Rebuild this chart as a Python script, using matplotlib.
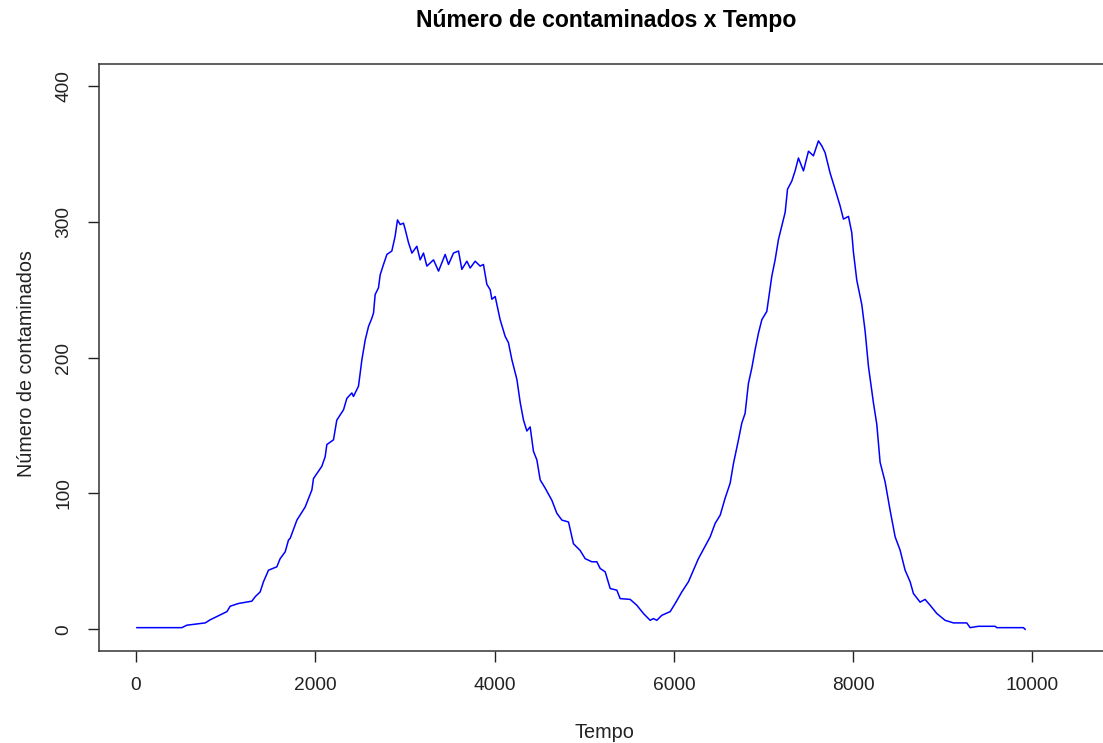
import matplotlib
matplotlib.use("Agg")
import matplotlib.pyplot as plt

plt.rcParams['font.family'] = ['Liberation Sans', 'DejaVu Sans']

# tempo (passos) e numero de contaminados
tempo = [10, 512, 567, 772, 828, 920, 1014, 1051, 1143, 1292, 1330, 1385, 1422,
         1478, 1571, 1608, 1664, 1701, 1720, 1795, 1887, 1962, 1980, 2073, 2110,
         2129, 2203, 2240, 2315, 2352, 2408, 2426, 2482, 2501, 2520, 2557, 2594,
         2631, 2650, 2668, 2705, 2724, 2761, 2799, 2854, 2891, 2917, 2947, 2984,
         3003, 3040, 3078, 3133, 3170, 3207, 3245, 3319, 3375, 3449, 3486, 3542,
         3598, 3635, 3691, 3728, 3784, 3839, 3876, 3914, 3951, 3970, 4007, 4062,
         4118, 4155, 4193, 4249, 4286, 4323, 4360, 4397, 4434, 4472, 4509, 4564,
         4639, 4695, 4751, 4825, 4880, 4955, 5011, 5085, 5141, 5178, 5234, 5290,
         5364, 5401, 5513, 5587, 5661, 5736, 5772, 5810, 5866, 5959, 6015, 6089,
         6163, 6219, 6274, 6340, 6405, 6461, 6517, 6572, 6628, 6665, 6721, 6758,
         6795, 6832, 6870, 6907, 6944, 6982, 7037, 7066, 7093, 7130, 7167, 7205,
         7242, 7268, 7316, 7353, 7390, 7446, 7502, 7557, 7613, 7650, 7687, 7743,
         7799, 7855, 7892, 7948, 7985, 8003, 8041, 8097, 8134, 8171, 8227, 8264,
         8301, 8357, 8413, 8469, 8524, 8580, 8636, 8673, 8747, 8803, 8859, 8934,
         9026, 9119, 9268, 9305, 9398, 9584, 9603, 9900, 9919]
contaminados = [1.2, 1.2, 3, 4.7, 7, 10, 13, 17, 19, 20.7, 24, 27.5, 35,
                43.5, 46, 52, 57, 65.7, 67, 80.4, 90, 102.6, 111, 120, 127,
                136, 139.5, 154, 161.6, 170, 174, 171.4, 179, 188.7, 198.5, 213, 223,
                229, 233, 246.5, 251.4, 261, 268.6, 276, 278.5, 289.5, 301.4, 298, 299,
                294.5, 284.6, 277, 282, 272, 277, 267.4, 272, 263.7, 276, 268.6, 277,
                278.5, 265, 271, 266, 271, 267.4, 268.6, 254, 250, 243, 245, 228,
                215.7, 211, 198.5, 184, 167, 154, 146, 149, 131, 124.7, 110, 104,
                95, 85.4, 80.4, 79, 63, 58, 52, 49.7, 49.7, 44.8, 42.3, 30,
                28.8, 22.6, 22, 17.7, 11.6, 6.6, 7.9, 6.6, 10.3, 13, 19, 27.5,
                35, 43.5, 52, 60, 68, 78, 84, 96.5, 107.5, 122, 139.5, 151.8,
                159, 181, 192.4, 206, 218, 228, 234, 247.7, 260, 272, 287, 297,
                307, 324, 330, 337.5, 347, 337.5, 352, 348.6, 359.6, 356, 351, 336,
                324, 311.7, 302, 304, 292, 278, 257, 239, 219.5, 193.6, 166.6, 151,
                123, 108.5, 87.5, 68, 58.3, 43.5, 35, 26.3, 20, 22, 17.7, 11.6,
                6.6, 4.7, 4.7, 1.2, 2.2, 2.2, 1.2, 1.2, 0]

x_ticks = [0, 2000, 4000, 6000, 8000, 10000]
y_ticks = [0, 100, 200, 300, 400]

fig = plt.figure(figsize=(11.03, 7.43), dpi=100)
ax = fig.add_axes([0.0895, 0.1238, 0.9128, 0.7897])

ax.plot(tempo, contaminados, color='#0000FF', lw=1.1)

ax.set_xlim(-416, 10816)
ax.set_ylim(-16, 416)
ax.set_xticks(x_ticks)
ax.set_yticks(y_ticks)
ax.set_xticklabels([str(v) for v in x_ticks])
ax.set_yticklabels([str(v) for v in y_ticks], rotation=90, va='center')
ax.tick_params(direction='out', length=8, width=1, colors='#222222',
               labelsize=13.8, pad=11, labelcolor='#222222')

for s in ax.spines.values():
    s.set_color('#333333')
    s.set_linewidth(1.1)

fig.text(606 / 1103, 1 - 20 / 743, 'Número de contaminados x Tempo',
         ha='center', va='center', fontsize=16.6, fontweight='bold', color='#000000')
fig.text(604 / 1103, 1 - 733 / 743, 'Tempo', ha='center', va='center',
         fontsize=14.3, color='#222222')
fig.text(27 / 1103, 1 - 364 / 743, 'Número de contaminados', ha='center',
         va='center', rotation=90, fontsize=14.2, color='#222222')

fig.savefig('out.png', dpi=100)
